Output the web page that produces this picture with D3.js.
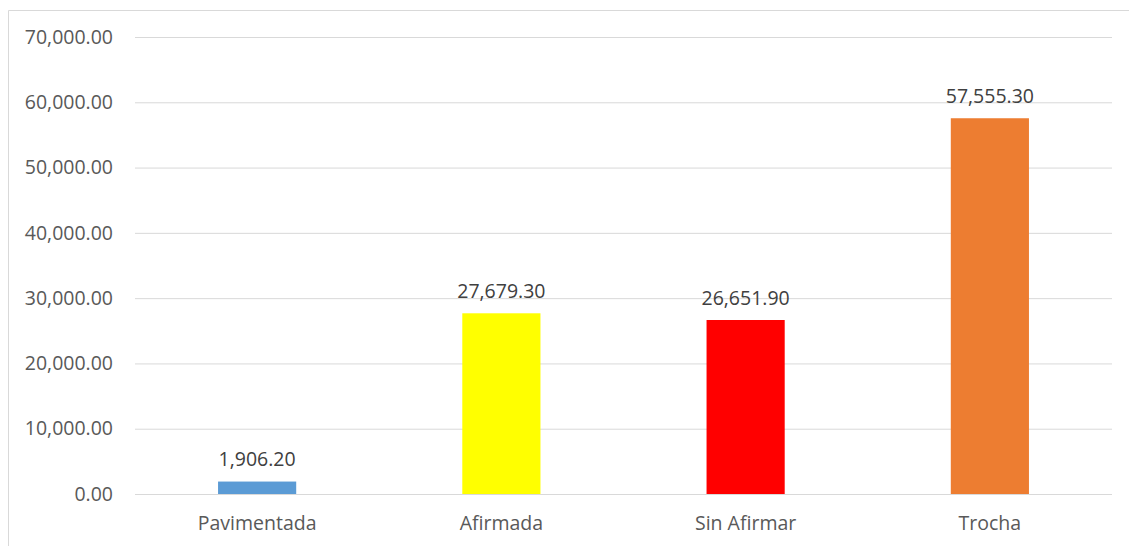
<!DOCTYPE html>
<html><head><meta charset="utf-8">
<script src="https://cdn.jsdelivr.net/npm/d3@7"></script>
<style>body{margin:0;background:#fff;} svg{display:block;} svg text{font-family:"Open Sans","Noto Sans",sans-serif;}</style>
</head><body>
<svg id="c" width="1129" height="546"></svg>
<script>
const categories = ["Pavimentada", "Afirmada", "Sin Afirmar", "Trocha"];
const values = [1906.2, 27679.3, 26651.9, 57555.3];
const colors = ["#5B9BD5", "#FFFF00", "#FF0000", "#ED7D31"];
const yTicks = [0, 10000, 20000, 30000, 40000, 50000, 60000, 70000];

(function () {
const svg = d3.select("#c");
const mLeft = 135, mRight = 1112, mTop = 37, mBottom = 494;
const FONT = "'Open Sans','Noto Sans',sans-serif";
const FS = 19.5;

// outer border (left and top only visible)
svg.append("line").attr("x1", 8.5).attr("x2", 8.5).attr("y1", 10.5).attr("y2", 546).attr("stroke", "#D9D9D9");
svg.append("line").attr("x1", 8.5).attr("x2", 1129).attr("y1", 10.5).attr("y2", 10.5).attr("stroke", "#D9D9D9");

const x = d3.scaleBand().domain(categories).range([mLeft, mRight]).paddingInner(0.68).paddingOuter(0.34);
const y = d3.scaleLinear().domain([0, 70000]).range([mBottom, mTop]);
const fmt = d3.format(",.2f");

const yAxis = d3.axisLeft(y).tickValues(yTicks).tickFormat(fmt).tickSize(-(mRight - mLeft)).tickPadding(22);
const gy = svg.append("g").attr("transform", `translate(${mLeft},0)`).call(yAxis)
  .attr("font-family", FONT).attr("font-size", FS);
gy.select(".domain").remove();
gy.selectAll(".tick line").attr("stroke", "#D9D9D9").attr("stroke-width", 1);
gy.selectAll(".tick text").attr("fill", "#595959");

const xAxis = d3.axisBottom(x).tickSize(0).tickPadding(22);
const gx = svg.append("g").attr("transform", `translate(0,${mBottom})`).call(xAxis)
  .attr("font-family", FONT).attr("font-size", FS);
gx.select(".domain").remove();
gx.selectAll(".tick text").attr("fill", "#595959");

svg.selectAll("rect.bar").data(values).join("rect").attr("class", "bar")
  .attr("x", (d, i) => x(categories[i]))
  .attr("width", x.bandwidth())
  .attr("y", d => y(d))
  .attr("height", d => y(0) - y(d))
  .attr("fill", (d, i) => colors[i]);

svg.selectAll("text.lbl").data(values).join("text").attr("class", "lbl")
  .attr("x", (d, i) => x(categories[i]) + x.bandwidth() / 2)
  .attr("y", d => y(d) - 15.5)
  .attr("text-anchor", "middle")
  .attr("fill", "#404040")
  .attr("font-family", FONT)
  .attr("font-size", FS)
  .text(d => fmt(d));
})();
</script>
</body></html>
